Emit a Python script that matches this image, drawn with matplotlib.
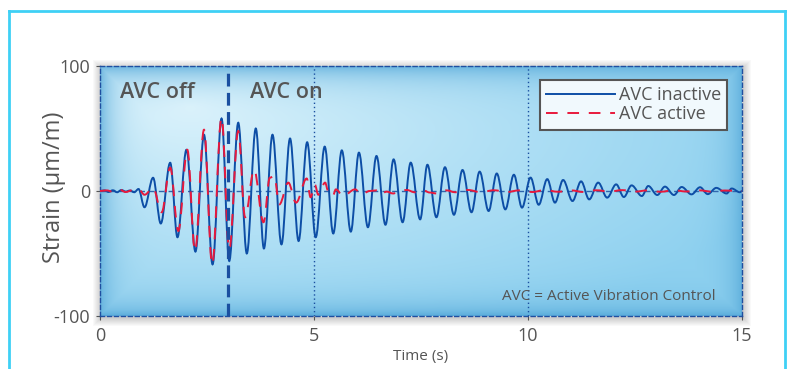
import numpy as np
import matplotlib
matplotlib.use("Agg")
import matplotlib.pyplot as plt
from matplotlib.path import Path
from matplotlib.patches import PathPatch, Rectangle
from matplotlib.lines import Line2D

plt.rcParams['font.family'] = ['Open Sans', 'DejaVu Sans']
plt.rcParams['axes.unicode_minus'] = False

# peaks/troughs (time in s, strain in um/m)
inactive_t = [0.0, 0.1, 0.2, 0.3, 0.4, 0.5, 0.6, 0.7, 0.8, 0.9,
              1.04, 1.24, 1.42, 1.64, 1.81, 2.02, 2.23, 2.43, 2.63, 2.84,
              3.02, 3.23, 3.43, 3.64, 3.83, 4.03, 4.24, 4.44, 4.64, 4.84,
              5.04, 5.25, 5.45, 5.65, 5.86, 6.05, 6.26, 6.46, 6.67, 6.86,
              7.07, 7.26, 7.48, 7.65, 7.86, 8.06, 8.27, 8.47, 8.68, 8.87,
              9.08, 9.27, 9.47, 9.67, 9.86, 10.06, 10.25, 10.45, 10.63, 10.82,
              11.04, 11.24, 11.43, 11.64, 11.85, 12.06, 12.24, 12.42, 12.66, 12.81,
              13.02, 13.2, 13.41, 13.59, 13.82, 14.02, 14.2, 14.4, 14.64, 14.76,
              14.95, 15.0]
inactive_v = [0.0, 0.5, -0.8, 0.6, -1.0, 0.8, -0.5, 0.4, -1.0, 1.6,
              -13, 10.6, -26, 22.6, -37, 33, -48.5, 45, -58.7, 58,
              -56, 54.6, -50, 50, -46, 45, -42.7, 42, -40, 39,
              -37, 35.5, -34, 32.5, -32.5, 30.7, -29, 28, -27, 25.3,
              -25, 22.7, -22.7, 21, -21, 19, -19, 16.8, -17, 15.5,
              -16, 14, -14.7, 13, -13.3, 10.7, -11, 9.5, -9.3, 8.8,
              -8, 7.7, -6.7, 6.7, -5.3, 5.3, -4.8, 4.5, -4, 4,
              -3.2, 3.5, -3.2, 3.2, -2.7, 3, -2.5, 2.5, -2, 2,
              -1, 0.0]

active_t = [0.0, 0.15, 0.3, 0.45, 0.6, 0.75, 0.9, 1.04, 1.24, 1.44,
            1.64, 1.83, 2.04, 2.22, 2.43, 2.62, 2.84, 3.02, 3.23, 3.39,
            3.6, 3.82, 3.97, 4.07, 4.19, 4.4, 4.58, 4.83, 4.92, 5.02,
            5.1, 5.26, 5.33, 5.44, 5.51, 5.68, 5.96, 6.11, 6.3, 6.46,
            6.54, 6.7, 6.85, 7.0, 7.17, 7.35, 7.56, 7.7, 7.87, 8.1,
            8.3, 8.6, 8.9, 9.2, 9.5, 9.8, 10.1, 10.4, 10.7, 11.0,
            11.3, 11.6, 11.9, 12.2, 12.5, 12.8, 13.1, 13.4, 13.7, 14.0,
            14.3, 14.6, 15.0]
active_v = [0.0, 0.5, -0.5, 1.2, -0.8, 0.5, 1.5, -3, 2.5, -17,
            18.7, -32, 33, -48, 49, -58.7, 58.6, -46.7, 48, -21,
            17, -25, 10.7, 12, -10.7, 6.7, -9.3, 10, -5, 5,
            -3, 6.7, 0, -4, 1.3, -4, 1.3, -2.7, 0, 0.5,
            -2.7, -0.5, -2, 0, 0.8, -1, 0.5, -1.2, -2, 0.5,
            -1, 0.8, -1, 0.6, -0.8, 0.5, -0.8, 0.8, -0.6, 0.5,
            -0.8, 0.6, -0.5, 0.7, -0.5, 0.5, -0.6, 0.6, -0.4, 0.5,
            -0.5, 0.4, 0.0]

x_ticks = [0, 5, 10, 15]
y_ticks = [-100, 0, 100]
avc_switch = 3
marker_times = [5, 10]

blue = '#0d4ea6'
red = '#e8193c'
grey = '#555555'


def smooth_path(ts, vs):
    # cubic bezier between extrema, flat tangent at each peak
    verts = [(ts[0], vs[0])]
    codes = [Path.MOVETO]
    for i in range(1, len(ts)):
        dt = ts[i] - ts[i - 1]
        verts += [(ts[i - 1] + 0.363 * dt, vs[i - 1]),
                  (ts[i] - 0.363 * dt, vs[i]),
                  (ts[i], vs[i])]
        codes += [Path.CURVE4] * 3
    return Path(verts, codes)


W, H = 790, 369
fig = plt.figure(figsize=(7.9, 3.69), dpi=100)
fig.patch.set_facecolor('white')

# axes box in pixels
L, R, T, B = 100, 742, 66, 316
ax = fig.add_axes([L / W, 1 - B / H, (R - L) / W, (B - T) / H])

# outer cyan frame
fr = dict(color='#3fd0f5', lw=2, transform=None)
fig.add_artist(Line2D([9, 9], [0, H - 11], **fr))
fig.add_artist(Line2D([9, 785], [H - 11, H - 11], **fr))
fig.add_artist(Line2D([785, 785], [0, H - 11], **fr))

# soft shadow round the plot box
for k in range(8, 0, -1):
    fig.add_artist(Rectangle(((L - k + 1) / W, 1 - (B + k + 2) / H),
                             (R - L + 2 * k) / W, (B - T + 2 * k) / H,
                             transform=fig.transFigure, facecolor='#000000',
                             alpha=0.025, edgecolor='none', zorder=-5))

# background gradient
ny, nx = 250, 642
yy, xx = np.mgrid[0:ny, 0:nx]
r = np.sqrt(((xx - 90) / 620.0) ** 2 + ((yy - 40) / 260.0) ** 2)
r = np.clip(r, 0, 1)
light = np.array([0.88, 0.96, 0.99])
mid = np.array([0.56, 0.82, 0.94])
dark = np.array([0.33, 0.66, 0.85])
img = light + (mid - light) * r[..., None] ** 0.8
ex = np.minimum(xx, nx - 1 - xx)
ey = np.minimum(yy, ny - 1 - yy)
vig = np.maximum(np.exp(-ex / 14.0), np.exp(-ey / 14.0)) * 0.75
vig = np.maximum(vig, np.exp(-(ny - 1 - yy) / 10.0) * 0.9)
img = img + (dark - img) * vig[..., None]
ax.imshow(img, extent=(0, 1, 0, 1), transform=ax.transAxes, aspect='auto',
          zorder=0, interpolation='bilinear')

ax.set_xlim(0, 15)
ax.set_ylim(-100, 100)

ax.axhline(0, color='#2f66ad', lw=1, dashes=(4, 3), zorder=1)
for m in marker_times:
    ax.axvline(m, color='#1a4fa0', lw=1, dashes=(1, 2), zorder=1)

ax.add_patch(PathPatch(smooth_path(inactive_t, inactive_v), fill=False,
                       edgecolor=blue, lw=1.4, zorder=2))
ax.add_patch(PathPatch(smooth_path(active_t, active_v), fill=False,
                       edgecolor=red, lw=1.4, linestyle=(0, (6, 5)), zorder=3))

ax.axvline(avc_switch, color='#1a4fa0', lw=2.3, dashes=(4, 2), zorder=4)

for s in ax.spines.values():
    s.set_linestyle((0, (3, 2)))
    s.set_color('#1f4fa0')
    s.set_linewidth(1)

ax.set_xticks(x_ticks)
ax.set_yticks(y_ticks)
ax.tick_params(colors=grey, labelsize=13, length=3, width=0.8)
ax.tick_params(axis='x', pad=5)
ax.tick_params(axis='y', pad=4)
ax.set_ylabel('Strain (μm/m)', fontsize=17, color=grey)
ax.yaxis.set_label_coords(-0.053, 0.516)
ax.set_xlabel('Time (s)', fontsize=11, color=grey, labelpad=3)

ax.text(0.031, 0.895, 'AVC off', transform=ax.transAxes, fontsize=15.5,
        fontweight='semibold', color=grey, va='center', ha='left', zorder=5)
ax.text(0.234, 0.895, 'AVC on', transform=ax.transAxes, fontsize=15.5,
        fontweight='semibold', color=grey, va='center', ha='left', zorder=5)
ax.text(0.959, 0.08, 'AVC = Active Vibration Control', transform=ax.transAxes,
        fontsize=11, color=grey, va='center', ha='right', zorder=5)

handles = [Line2D([], [], color=blue, lw=1.4),
           Line2D([], [], color=red, lw=1.4, linestyle=(0, (6, 5)))]
leg = ax.legend(handles, ['AVC inactive', 'AVC active'], loc='upper right',
                bbox_to_anchor=(0.977, 0.944), borderaxespad=0, fontsize=13,
                handlelength=3.8, handletextpad=0.2, labelspacing=0.05,
                borderpad=0.35, fancybox=False, framealpha=1,
                facecolor='#f1f9fd', edgecolor=grey)
leg.get_frame().set_linewidth(1.5)
leg.set_zorder(6)
for t in leg.get_texts():
    t.set_color(grey)

fig.savefig('out.png', dpi=100, facecolor='white')
